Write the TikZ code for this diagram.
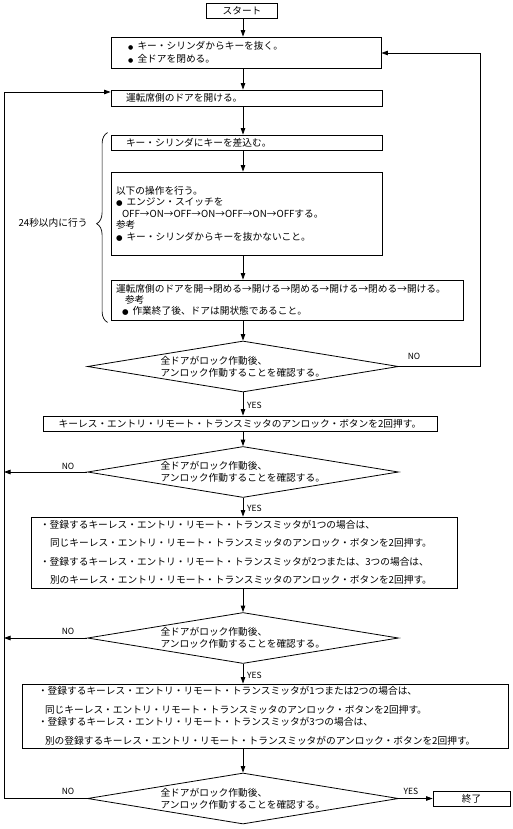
\documentclass[tikz,border=0pt]{standalone}
\usepackage{fontspec}
\setmainfont{Noto Sans CJK JP}
\newfontfamily\dvfont{DejaVu Sans}
\usetikzlibrary{shapes.geometric,arrows.meta,decorations.pathreplacing,calc}
\newcommand\smbul{\makebox[9.5pt][l]{\dvfont\fontsize{6}{6}\selectfont ●}}
\newcommand\bgbul{\makebox[10.5pt][l]{\dvfont\fontsize{7.5}{7.5}\selectfont ●}}
\tikzset{
  box/.style={draw, line width=0.8pt, rectangle, inner ysep=0pt, align=left,
    font=\fontsize{9.7}{11.5}\selectfont},
  dia/.style={draw, line width=0.8pt, diamond, aspect=6, inner sep=0pt,
    minimum width=311pt, minimum height=51pt, text width=165pt, align=left,
    font=\fontsize{9.7}{12}\selectfont},
  lab/.style={inner sep=0pt, font=\fontsize{8.5}{10}\selectfont},
  arr/.style={line width=0.8pt, -{Triangle[length=6.5pt,width=4.5pt]}},
  ln/.style={line width=0.8pt},
}
\begin{document}
\begin{tikzpicture}[x=1pt,y=-1pt]
\useasboundingbox (0,0) rectangle (512,829);
\coordinate (X) at (243,0);
\coordinate (R) at (480,53);
\coordinate (L) at (4,92);

\node[box, minimum width=71pt, minimum height=15pt, inner xsep=0pt, align=center] (start) at (242,10.5) {スタート};
\node[box, minimum width=270pt, minimum height=31pt, inner xsep=17pt, text width=236pt,
  font=\fontsize{9.7}{13}\selectfont] (box1) at (246,52.5)
  {\smbul キー・シリンダからキーを抜く。\\\smbul 全ドアを閉める。};
\node[box, minimum width=271pt, minimum height=16pt, inner xsep=15pt, text width=241pt] (box2) at (246.5,98) {運転席側のドアを開ける。};
\node[box, minimum width=271pt, minimum height=15pt, inner xsep=15pt, text width=241pt] (box3) at (246.5,142.5) {キー・シリンダにキーを差込む。};
\node[box, minimum width=271pt, minimum height=83pt, inner xsep=5pt, text width=261pt] (box4) at (246.5,213.5)
  {以下の操作を行う。\\
   \bgbul エンジン・スイッチを\\
   \hspace*{6pt}OFF→ON→OFF→ON→OFF→ON→OFFする。\\
   参考\\
   \bgbul キー・シリンダからキーを抜かないこと。};
\node[box, minimum width=352pt, minimum height=40pt, inner xsep=5pt, text width=342pt,
  font=\fontsize{9.7}{11}\selectfont] (box5) at (287,300)
  {運転席側のドアを開→閉める→開ける→閉める→開ける→閉める→開ける。\\
   \hspace*{9pt}参考\\
   \hspace*{6pt}\bgbul 作業終了後、ドアは開状態であること。};
\node[dia] (d1) at (243,366.5) {全ドアがロック作動後、\\アンロック作動することを確認する。};
\node[box, minimum width=394pt, minimum height=15pt, inner xsep=0pt, align=center] (box6) at (240,423.5)
  {キーレス・エントリ・リモート・トランスミッタのアンロック・ボタンを2回押す。};
\node[dia] (d2) at (243,472) {全ドアがロック作動後、\\アンロック作動することを確認する。};
\node[box, minimum width=426pt, minimum height=71pt, inner xsep=9pt, text width=408pt,
  font=\fontsize{9.7}{18.5}\selectfont] (box7) at (244,552.5)
  {・登録するキーレス・エントリ・リモート・トランスミッタが1つの場合は、\\
   \hspace*{10pt}同じキーレス・エントリ・リモート・トランスミッタのアンロック・ボタンを2回押す。\\
   ・登録するキーレス・エントリ・リモート・トランスミッタが2つまたは、3つの場合は、\\
   \hspace*{10pt}別のキーレス・エントリ・リモート・トランスミッタのアンロック・ボタンを2回押す。};
\node[dia] (d3) at (243,638) {全ドアがロック作動後、\\アンロック作動することを確認する。};
\node[box, minimum width=486pt, minimum height=64pt, inner xsep=16pt, text width=454pt,
  font=\fontsize{9.7}{19}\selectfont] (box8) at (265,716)
  {・登録するキーレス・エントリ・リモート・トランスミッタが1つまたは2つの場合は、\\
   \hspace*{7pt}同じキーレス・エントリ・リモート・トランスミッタのアンロック・ボタンを2回押す。\\[-7pt]
   ・登録するキーレス・エントリ・リモート・トランスミッタが3つの場合は、\\
   \hspace*{7pt}別の登録するキーレス・エントリ・リモート・トランスミッタがのアンロック・ボタンを2回押す。};
\node[dia] (d4) at (243,798.5) {全ドアがロック作動後、\\アンロック作動することを確認する。};
\node[box, minimum width=77pt, minimum height=15pt, inner xsep=0pt, align=center] (end) at (471.5,798.5) {終了};

% labels
\node[lab] (no1) at (414,356) {NO};
\node[lab, anchor=west] (yes1) at (247,405) {YES};
\node[lab] (no2) at (68,466) {NO};
\node[lab, anchor=west] (yes2) at (247,508) {YES};
\node[lab] (no3) at (68,631) {NO};
\node[lab, anchor=west] (yes3) at (247,675.5) {YES};
\node[lab] (no4) at (68,791) {NO};
\node[lab] (yes4) at (411,791) {YES};
\node[inner sep=0pt, font=\fontsize{9.7}{11}\selectfont] (brlab) at (53,223) {24秒以内に行う};

% brace
\draw[line width=0.7pt, decorate, decoration={brace, amplitude=11pt, aspect=0.52}]
  ([xshift=-3pt,yshift=-2pt]box5.south west) -- ([xshift=-3pt,yshift=2pt]box3.north west);

% main flow
\draw[arr] (start.south -| X) -- (box1.north -| X);
\draw[arr] (box1.south -| X) -- (box2.north -| X);
\draw[arr] (box2.south -| X) -- (box3.north -| X);
\draw[arr] (box3.south -| X) -- (box4.north -| X);
\draw[arr] (box4.south -| X) -- (box5.north -| X);
\draw[arr] (box5.south -| X) -- (d1.north);
\draw[arr] (d1.south) -- (box6.north -| X);
\draw[arr] (box6.south -| X) -- (d2.north);
\draw[arr] (d2.south) -- (box7.north -| X);
\draw[arr] (box7.south -| X) -- (d3.north);
\draw[arr] (d3.south) -- (box8.north -| X);
\draw[arr] (box8.south -| X) -- (d4.north);
\draw[arr] (d4.east) -- (end.west);

% loops
\draw[arr] (d1.east) -- (d1.east -| R) -- (R) -- (R -| box1.east);
\draw[arr] (d4.west) -- (d4.west -| L) -- (L) -- (L -| box2.west);
\draw[arr] (d2.west) -- (d2.west -| L);
\draw[arr] (d3.west) -- (d3.west -| L);
\end{tikzpicture}
\end{document}
